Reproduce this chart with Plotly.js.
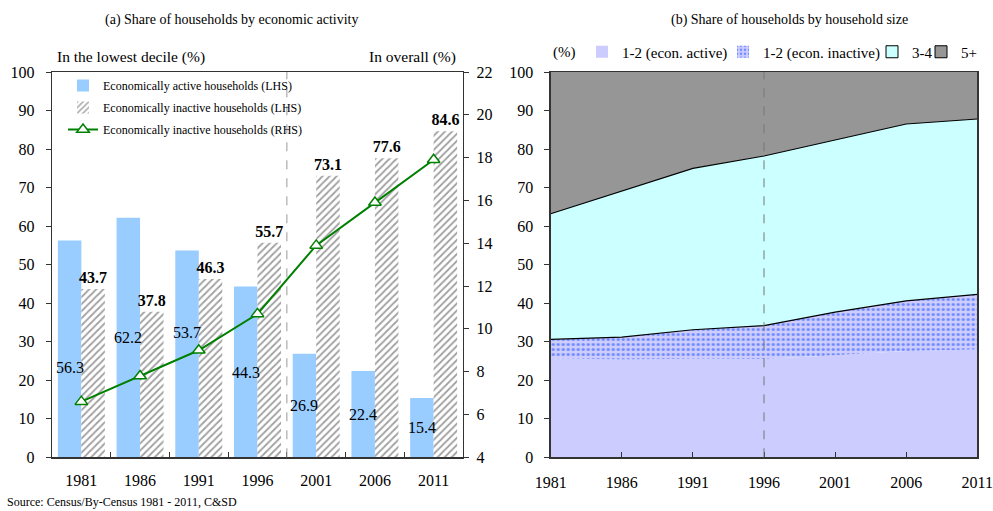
<!DOCTYPE html>
<html>
<head>
<meta charset="utf-8">
<script src="https://cdn.plot.ly/plotly-3.0.1.min.js"></script>
<style>html,body{margin:0;padding:0;background:#fff;}#chart{width:993px;height:511px;}</style>
</head>
<body>
<div id="chart"></div>
<script>
// ---------- Data ----------
const years = ['1981', '1986', '1991', '1996', '2001', '2006', '2011'];
const activeLowest = [56.3, 62.2, 53.7, 44.3, 26.9, 22.4, 15.4];      // LHS, %
const inactiveLowest = [43.7, 37.8, 46.3, 55.7, 73.1, 77.6, 84.6];    // LHS, %
const inactiveOverall = [6.6, 7.8, 9.0, 10.7, 13.9, 15.9, 17.9];      // RHS, %
// label heights (LHS units) for the economically active values
const activeLabelPos = [23.2, 31.1, 32.5, 22.1, 13.4, 11.2, 7.7];

const sizeYears = [1981, 1986, 1991, 1996, 2001, 2006, 2011];
const size12Active = [25.7, 25.4, 25.6, 25.5, 26.5, 27.6, 28.0];
const size12Inactive = [4.9, 5.8, 7.5, 8.7, 11.2, 13.0, 14.3];
const size34 = [32.6, 37.9, 41.9, 44.0, 44.6, 45.9, 45.5];
const size5plus = [36.8, 30.9, 25.0, 21.8, 17.7, 13.5, 12.2];
const sizeLegendNames = ['1-2 (econ. active)', '1-2 (econ. inactive)', '3-4', '5+'];

// ---------- Layout helpers ----------
const W = 993, H = 511;
const px = v => v / W;
const py = v => 1 - v / H;
const serif = 'Liberation Serif, Times New Roman, serif';
const yDom = [py(457.3), py(72)];
const dotPattern = {shape: '.', fgcolor: '#6F8BFF', bgcolor: '#CCCCFF', size: 5, solidity: 0.3};

const traces = [
  {
    type: 'bar', x: years, y: activeLowest, name: 'Economically active households (LHS)',
    marker: {color: '#99CCFF'}, xaxis: 'x', yaxis: 'y', legend: 'legend', legendgroup: 'a', hoverinfo: 'y'
  },
  {
    type: 'bar', x: years, y: inactiveLowest, name: 'Economically inactive households (LHS)',
    marker: {color: '#FFFFFF', pattern: {shape: '/', fgcolor: '#A0A0A0', bgcolor: '#FFFFFF', size: 5, solidity: 0.35}},
    text: inactiveLowest.map(v => v.toFixed(1)), texttemplate: '<b>%{text}</b>', textposition: 'outside',
    constraintext: 'none',
    textfont: {family: serif, size: 16, color: '#000'}, cliponaxis: false,
    xaxis: 'x', yaxis: 'y', legend: 'legend', legendgroup: 'b', hoverinfo: 'y'
  },
  {
    type: 'scatter', mode: 'lines+markers', x: years, y: inactiveOverall, name: 'Economically inactive households (RHS)',
    line: {color: '#008000', width: 2},
    marker: {symbol: 'triangle-up', size: 11, color: '#FFFFFF', line: {color: '#008000', width: 1.5}},
    xaxis: 'x', yaxis: 'y2', legend: 'legend', legendgroup: 'c', cliponaxis: false
  },
  // stacked areas (right)
  {
    type: 'scatter', mode: 'lines', x: sizeYears, y: size12Active, stackgroup: 'hh', name: sizeLegendNames[0],
    fillcolor: '#CCCCFF', line: {width: 0, color: '#CCCCFF'}, xaxis: 'x2', yaxis: 'y3', showlegend: false
  },
  {
    type: 'scatter', mode: 'lines', x: sizeYears, y: size12Inactive, stackgroup: 'hh', name: sizeLegendNames[1],
    fillcolor: '#CCCCFF', fillpattern: dotPattern,
    line: {width: 1.2, color: '#000'}, xaxis: 'x2', yaxis: 'y3', showlegend: false
  },
  {
    type: 'scatter', mode: 'lines', x: sizeYears, y: size34, stackgroup: 'hh', name: sizeLegendNames[2],
    fillcolor: '#CCFFFF', line: {width: 1.2, color: '#000'}, xaxis: 'x2', yaxis: 'y3', showlegend: false
  },
  {
    type: 'scatter', mode: 'lines', x: sizeYears, y: size5plus, stackgroup: 'hh', name: sizeLegendNames[3],
    fillcolor: '#969696', line: {width: 0, color: '#969696'}, xaxis: 'x2', yaxis: 'y3', showlegend: false
  }
];
// legend entries for right chart (off-range dummy bars so only the legend swatch shows)
const legendMarkers = [
  {color: '#CCCCFF'},
  {color: '#CCCCFF', pattern: dotPattern},
  {color: '#CCFFFF', line: {color: '#000', width: 1}},
  {color: '#969696', line: {color: '#000', width: 1}}
];
const legendIds = ['legend2', 'legend3', 'legend4', 'legend5'];
const legendX = [582, 723, 872, 921];
sizeLegendNames.forEach((n, i) => {
  traces.push({type: 'bar', x: [1900], y: [1], name: n, marker: legendMarkers[i], xaxis: 'x2', yaxis: 'y3',
    legend: legendIds[i], hoverinfo: 'skip'});
});

const axisCommon = {
  showgrid: false, zeroline: false, showline: true, linecolor: '#333', linewidth: 1.3,
  tickcolor: '#333', ticklen: 5, tickfont: {family: serif, size: 16, color: '#000'}
};

function note(text, x, y, size, xanchor) {
  return {text: text, x: px(x), y: py(y), xref: 'paper', yref: 'paper', xanchor: xanchor || 'center', yanchor: 'middle',
    showarrow: false, font: {family: serif, size: size, color: '#000'}};
}
const annotations = [
  note('(a) Share of households by economic activity', 231, 20, 14),
  note('(b) Share of households by household size', 789, 20, 14),
  note('In the lowest decile (%)', 55, 57, 15.5, 'left'),
  note('In overall (%)', 458, 57, 15.5, 'right'),
  note('(%)', 564, 52, 15),
  note('Source: Census/By-Census 1981 - 2011, C&amp;SD', 5, 502, 12, 'left')
];
activeLowest.forEach((v, i) => {
  annotations.push({text: v.toFixed(1), x: i - 0.2, y: activeLabelPos[i], xref: 'x', yref: 'y', showarrow: false,
    font: {family: serif, size: 16, color: '#000'}});
});

const layout = {
  width: W, height: H,
  margin: {l: 0, r: 0, t: 0, b: 0, autoexpand: false},
  paper_bgcolor: '#FFFFFF', plot_bgcolor: 'rgba(0,0,0,0)',
  barmode: 'group', bargap: 0.2, bargroupgap: 0,
  font: {family: serif, color: '#000'},
  xaxis: Object.assign({}, axisCommon, {
    domain: [px(52), px(463)], anchor: 'y', type: 'category', ticks: 'inside', tickson: 'boundaries',
    mirror: true, ticklabelstandoff: 8, range: [-0.5, 6.5]
  }),
  yaxis: Object.assign({}, axisCommon, {
    domain: yDom, anchor: 'x', range: [0, 100], dtick: 10, ticks: 'outside', ticklabelstandoff: 8
  }),
  yaxis2: Object.assign({}, axisCommon, {
    domain: yDom, anchor: 'x', overlaying: 'y', side: 'right', range: [4, 22], dtick: 2, ticks: 'outside', ticklabelstandoff: 4
  }),
  xaxis2: Object.assign({}, axisCommon, {
    domain: [px(550.7), px(977.3)], anchor: 'y3', range: [1981, 2011], tickvals: sizeYears, ticktext: sizeYears.map(String),
    ticks: 'inside', mirror: true, ticklabelstandoff: 10, ticklabeloverflow: 'allow'
  }),
  yaxis3: Object.assign({}, axisCommon, {
    domain: yDom, anchor: 'x2', range: [0, 100], dtick: 10, ticks: 'outside', mirror: true, ticklabelstandoff: 8
  }),
  legend: {
    x: px(63), y: py(71), xanchor: 'left', yanchor: 'top', bgcolor: 'rgba(0,0,0,0)',
    font: {family: serif, size: 12, color: '#000'}, traceorder: 'grouped', orientation: 'v', tracegroupgap: 3
  },
  shapes: [
    {type: 'line', xref: 'x', yref: 'y domain', x0: 3.5, x1: 3.5, y0: 0, y1: 1, line: {color: '#999', width: 1, dash: 'dash'}},
    {type: 'line', xref: 'x2', yref: 'y3 domain', x0: 1996, x1: 1996, y0: 0, y1: 1, line: {color: '#777', width: 1, dash: 'dash'}, layer: 'above'}
  ],
  annotations: annotations,
  showlegend: true
};
legendIds.forEach((id, i) => {
  layout[id] = {
    x: px(legendX[i]), y: py(52), xanchor: 'left', yanchor: 'middle', orientation: 'h', bgcolor: 'rgba(0,0,0,0)',
    font: {family: serif, size: 15, color: '#000'}
  };
});

Plotly.newPlot('chart', traces, layout, {displayModeBar: false, staticPlot: true});
</script>
</body>
</html>
